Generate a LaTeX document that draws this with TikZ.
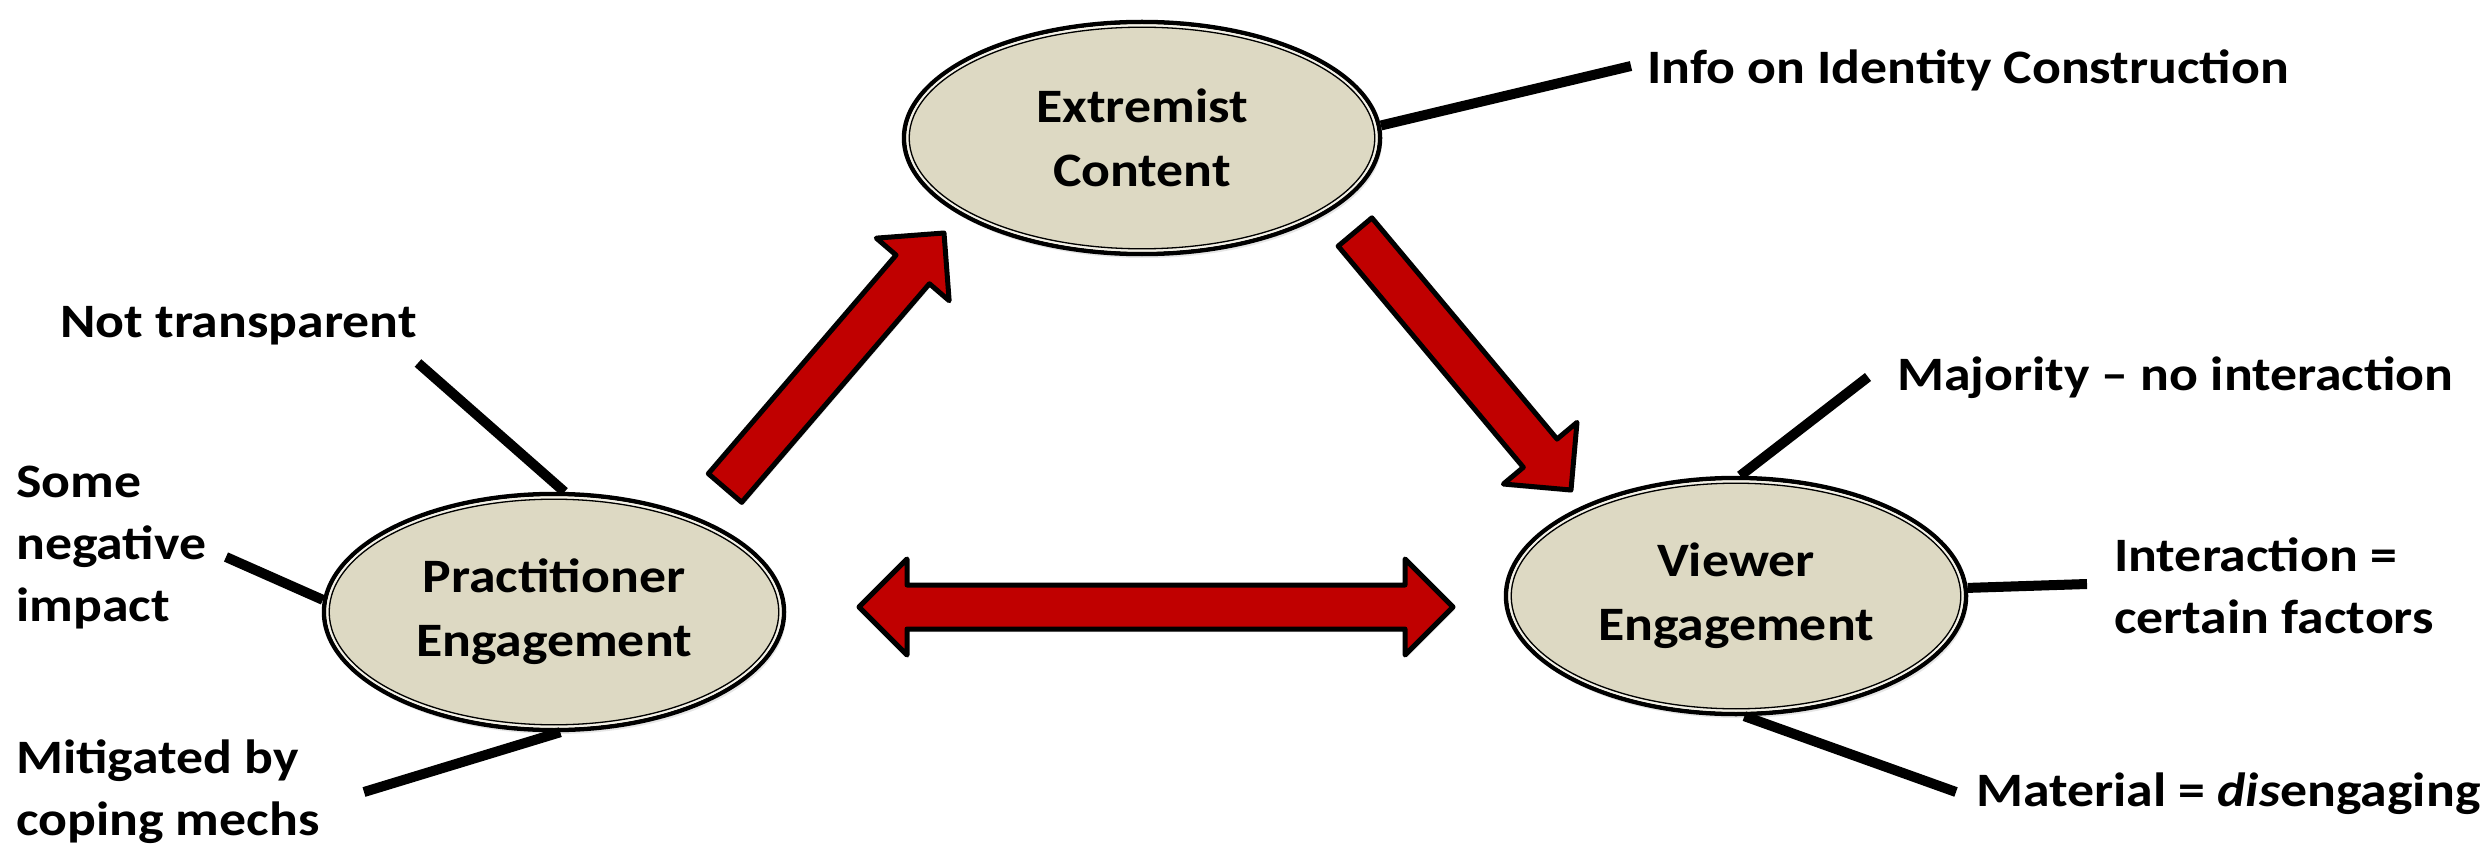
\documentclass[tikz,border=0pt]{standalone}
\usepackage{fontspec}
\setmainfont{Carlito}[FakeStretch=1.12]
\usetikzlibrary{shapes.geometric,calc,shadows}
\definecolor{cream}{HTML}{DDD9C3}
\definecolor{ringgap}{HTML}{F3F1E8}
\definecolor{arrowred}{HTML}{C00000}

% block arrow from tail #1 to tip #2
\newcommand{\fatarrow}[2]{%
  \coordinate (hd) at ($(#2)!48pt!(#1)$);
  \draw[blockdecorate] ($(#1)!22pt!90:(#2)$) -- ($(hd)!22pt!-90:(#1)$)
    -- ($(hd)!48pt!-90:(#1)$) -- (#2) -- ($(hd)!48pt!90:(#1)$)
    -- ($(hd)!22pt!90:(#1)$) -- ($(#1)!22pt!-90:(#2)$) -- cycle;}
% block arrow with two tips #1 and #2
\newcommand{\twowayarrow}[2]{%
  \coordinate (ha) at ($(#1)!48pt!(#2)$);
  \coordinate (hb) at ($(#2)!48pt!(#1)$);
  \draw[blockdecorate] (#1) -- ($(ha)!48pt!90:(#2)$) -- ($(ha)!22pt!90:(#2)$)
    -- ($(hb)!22pt!-90:(#1)$) -- ($(hb)!48pt!-90:(#1)$) -- (#2)
    -- ($(hb)!48pt!90:(#1)$) -- ($(hb)!22pt!90:(#1)$)
    -- ($(ha)!22pt!-90:(#2)$) -- ($(ha)!48pt!-90:(#2)$) -- cycle;}

\begin{document}
\begin{tikzpicture}
[x=1pt,y=-1pt,
 bubbledecorate/.style={shape=ellipse,fill=cream,draw=black,line width=4.5pt,
   inner sep=0pt,minimum width=460pt,minimum height=236pt,align=center,
   font=\bfseries\fontsize{48}{64}\selectfont,
   drop shadow={shadow xshift=2pt,shadow yshift=-4pt,opacity=0.2}},
 remarkdecorate/.style={anchor=west,align=left,inner sep=0pt,
   font=\bfseries\fontsize{48}{62}\selectfont},
 spokedecorate/.style={-,line width=10pt},
 blockdecorate/.style={fill=arrowred,draw=black,line width=5pt,line join=round,
   drop shadow={shadow xshift=1.5pt,shadow yshift=-3pt,opacity=0.2}}]
\useasboundingbox (0,0) rectangle (2483,845);
%% nodes or vertices
\node (ext) at (1142,138) [bubbledecorate,minimum width=476pt,minimum height=232pt] {Extremist\\Content};
\node (prac) at (554,612) [bubbledecorate] {Practitioner\\Engagement};
\node (view) at (1736,596) [bubbledecorate] {Viewer\\Engagement};
\foreach \nodename/\rx/\ry in {ext/238/116, prac/230/118, view/230/118}
{
  \draw[ringgap,line width=2.2pt] (\nodename.center) ellipse [x radius=\rx pt-3.4pt, y radius=\ry pt-3.4pt];
  \draw[line width=1.3pt] (\nodename.center) ellipse [x radius=\rx pt-5.2pt, y radius=\ry pt-5.2pt];
}
%% remarks
\foreach \nodename/\x/\y/\words in {info/1647/70/{Info on Identity Construction},
  opaque/60/326/{Not transparent}, harm/16/548/{Some\\negative\\impact},
  coping/16/792/{Mitigated by\\coping mechs}, majority/1897/378/{Majority -- no interaction},
  factors/2114/586/{Interaction =\\certain factors},
  material/1976/794/{Material = \textit{dis}engaging}}
{
  \node (\nodename) at (\x,\y) [remarkdecorate] {\words};
}
%% free ends of the spokes
\foreach \cname/\x/\y in {e1/1631/66, p1/418/363, p2/226/557, p3/364/792,
  v1/1868/377, v2/2087/584, v3/1956/792}
{
  \coordinate (\cname) at (\x,\y);
}
%% spokes
\path
\foreach \startnode/\endnode in {ext.3/e1, prac.85/p1, prac.177/p2, prac.273/p3,
  view.88/v1, view.2/v2, view.274/v3} {
  (\startnode) edge[spokedecorate] (\endnode)
};
%% block arrows
\coordinate (a1) at (725,488);
\coordinate (a2) at (944,233);
\coordinate (b1) at (1355,232);
\coordinate (b2) at (1571,490);
\coordinate (c1) at (859,607);
\coordinate (c2) at (1453,607);
\fatarrow{a1}{a2}
\fatarrow{b1}{b2}
\twowayarrow{c1}{c2}
\end{tikzpicture}
\end{document}
